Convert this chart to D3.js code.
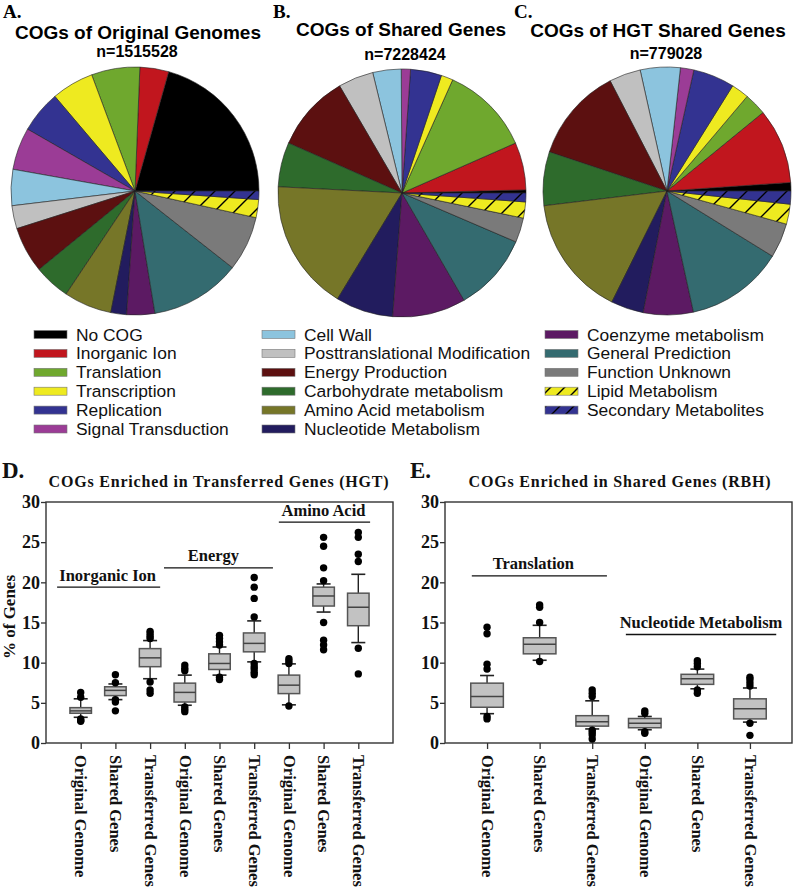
<!DOCTYPE html>
<html><head><meta charset="utf-8">
<script src="https://cdn.jsdelivr.net/npm/d3@7"></script>
<style>body{margin:0;background:#fff} svg{display:block}</style>
</head><body>
<svg id="chart" width="793" height="887"></svg>
<script>
// ---------- DATA ----------
const cogCategories = ["No COG","Inorganic Ion","Translation","Transcription","Replication","Signal Transduction","Cell Wall","Posttranslational Modification","Energy Production","Carbohydrate metabolism","Amino Acid metabolism","Nucleotide Metabolism","Coenzyme metabolism","General Prediction","Function Unknown","Lipid Metabolism","Secondary Metabolites"];
const pieOriginal = [20.6,3.75,6.3,5.5,5.5,5.5,4.7,3.0,6.0,4.7,6.25,2.05,3.65,11.8,7.15,2.35,1.1];
const pieShared   = [0.4,6.2,11.7,1.55,4.05,1.2,3.7,4.6,10.0,5.8,17.1,7.5,9.55,10.2,3.2,2.1,1.15];
const pieHGT      = [1.1,9.8,2.9,2.3,5.4,1.75,5.2,4.1,12.3,7.0,15.75,4.25,6.5,12.75,4.5,2.6,1.7];
const pieTitles = ["COGs of Original Genomes","COGs of Shared Genes","COGs of HGT Shared Genes"];
const pieCounts = ["n=1515528","n=7228424","n=779028"];
const pieLetters = ["A.","B.","C."];

const hgtTitle = "COGs Enriched in Transferred Genes (HGT)";
const hgtLabels = ["Original Genome","Shared Genes","Transferred Genes","Original Genome","Shared Genes","Transferred Genes","Original Genome","Shared Genes","Transferred Genes"];
const hgtQ1 = [3.7,5.9,9.5,5.1,9.15,11.35,6.15,17.05,14.6];
const hgtMedian = [4.0,6.55,10.6,6.3,9.9,12.4,7.2,18.3,16.9];
const hgtQ3 = [4.4,7.0,11.75,7.45,11.1,13.7,8.45,19.4,18.65];
const hgtWhiskerLow = [3.2,5.4,8.0,4.7,8.45,10.1,4.75,16.3,12.5];
const hgtWhiskerHigh = [5.5,7.35,12.75,8.45,11.95,15.2,9.85,19.8,21.0];
const hgtOutliers = [[6.3,5.7,3.0,2.8,2.7],[8.5,7.5,5.4,5.1,4.0],[13.9,13.6,13.3,13.0,7.6,6.6,6.2],[9.7,9.3,9.0,4.5,4.2,3.9],[13.4,13.0,12.6,12.2,8.2,7.9],[20.6,19.4,18.0,15.7,9.9,9.5,9.2,8.8,8.5],[10.5,10.2,9.9,4.6],[25.6,24.5,21.8,20.2,15.0,12.8,12.2,11.6],[26.2,25.6,23.5,22.6,11.8,8.6]];
const hgtGroups = ["Inorganic Ion","Energy","Amino Acid"];
const hgtGroupSpan = [[0.32,3.29],[3.4,6.54],[6.71,9.34]];
const hgtGroupLevel = [19.4,21.8,27.5];

const rbhTitle = "COGs Enriched in Shared Genes (RBH)";
const rbhLabels = ["Original Genome","Shared Genes","Transferred Genes","Original Genome","Shared Genes","Transferred Genes"];
const rbhQ1 = [4.45,11.1,2.1,1.9,7.3,3.0];
const rbhMedian = [5.8,12.3,2.65,2.45,8.0,4.25];
const rbhQ3 = [7.45,13.1,3.4,3.05,8.55,5.5];
const rbhWhiskerLow = [3.65,10.3,1.75,1.65,6.75,2.6];
const rbhWhiskerHigh = [8.4,14.65,5.25,3.3,9.2,6.85];
const rbhOutliers = [[14.4,13.6,9.8,9.2,3.3,3.0],[17.2,16.9,15.0,10.15],[6.6,6.2,5.8,1.6,1.3,1.0,0.5],[4.0,3.7,1.4,1.2],[10.25,9.9,9.5,6.6,6.2],[8.2,7.9,7.5,7.1,2.45,0.95]];
const rbhGroups = ["Translation","Nucleotide Metabolism"];
const rbhGroupSpan = [[0.71,3.28],[3.64,6.5]];
const rbhGroupLevel = [20.8,13.5];

const yTicks = [0,5,10,15,20,25,30];

// ---------- STYLE ----------
const cogColors = ["#000000","#c1161e","#6fa82e","#eeea20","#333391","#9b3c96","#8cc4de","#c0c0c0","#5c1010","#2e6b2c","#767628","#221c5e","#5c1a63","#346b70","#7a7a7a","#eeea20","#333391"];
const hatched = [false,false,false,false,false,false,false,false,false,false,false,false,false,false,false,true,true];
const SANS = "'Liberation Sans', Arial, sans-serif";
const SERIF = "'Liberation Serif', 'Times New Roman', serif";

const svg = d3.select("#chart");
const defs = svg.append("defs");
function hatchPattern(id, color, s) {
  const p = defs.append("pattern").attr("id", id).attr("patternUnits","userSpaceOnUse")
    .attr("width", s).attr("height", s);
  p.append("rect").attr("width", s).attr("height", s).attr("fill", color);
  p.append("path").attr("d", `M${-s/4},${s/4} L${s/4},${-s/4} M0,${s} L${s},0 M${s*0.75},${s*1.25} L${s*1.25},${s*0.75}`)
    .attr("stroke","#000").attr("stroke-width",1.4);
}
hatchPattern("hatch15", cogColors[15], 20);
hatchPattern("hatch16", cogColors[16], 20);
hatchPattern("lhatch15", cogColors[15], 14);
hatchPattern("lhatch16", cogColors[16], 14);
const fillFor = (i, legend) => hatched[i] ? `url(#${legend ? "l" : ""}hatch${i})` : cogColors[i];

// ---------- PIES ----------
const pieData = [pieOriginal, pieShared, pieHGT];
const pieCenters = [[135,191],[402,193],[667,191]];
const titleX = [138, 401, 658];
const titleY = [39, 36, 37];
const countX = [137, 405, 666];
const countY = [57, 60, 59];
const letterX = [3, 273, 514];
const R = 124;
const pie = d3.pie().sort(null).startAngle(Math.PI/2).endAngle(Math.PI/2 - 2*Math.PI);
const arc = d3.arc().innerRadius(0).outerRadius(R);

pieData.forEach((vals, k) => {
  const g = svg.append("g").attr("transform", `translate(${pieCenters[k][0]},${pieCenters[k][1]})`);
  g.selectAll("path").data(pie(vals)).join("path")
    .attr("d", arc)
    .attr("fill", (d,i) => fillFor(i,false))
    .attr("stroke", "#222").attr("stroke-width", 0.6);
  svg.append("text").attr("x", titleX[k]).attr("y", titleY[k]).attr("text-anchor","middle")
    .style("font-family", SANS).style("font-weight","bold").style("font-size","19px").text(pieTitles[k]);
  svg.append("text").attr("x", countX[k]).attr("y", countY[k]).attr("text-anchor","middle")
    .style("font-family", SANS).style("font-weight","bold").style("font-size","16px").text(pieCounts[k]);
  svg.append("text").attr("x", letterX[k]).attr("y", 18)
    .style("font-family", SERIF).style("font-weight","bold").style("font-size","19px").text(pieLetters[k]);
});

// ---------- LEGEND ----------
const legendCols = [34, 262, 545];
const legendTop = 334.5, legendStep = 18.9;
cogCategories.forEach((name, i) => {
  const col = Math.floor(i / 6), row = i % 6;
  const x = legendCols[col], y = legendTop + row * legendStep;
  svg.append("rect").attr("x", x).attr("y", y - 4).attr("width", 33).attr("height", 8)
    .attr("fill", fillFor(i,true)).attr("stroke", "#777").attr("stroke-width", 0.6);
  svg.append("text").attr("x", x + 42).attr("y", y + 6)
    .style("font-family", SANS).style("font-size","17.4px").style("fill","#111").text(name);
});

// ---------- BOX PANELS ----------
function boxPanel(o) {
  const y = d3.scaleLinear().domain([0,30]).range([743, 502]);
  const x = d3.scaleLinear().domain(o.xDomain).range([o.left, o.right]);
  const step = x(1) - x(0);
  const bw = step * 0.62, cw = 14;
  const g = svg.append("g");
  const n = o.q1.length;
  const idx = d3.range(n);

  const ya = g.append("g").attr("transform", `translate(${o.left},0)`)
    .call(d3.axisLeft(y).tickValues(yTicks).tickSize(5).tickPadding(1));
  ya.select(".domain").remove();
  ya.selectAll("line").attr("stroke","#333").attr("stroke-width",1.3);
  ya.selectAll("text").style("font-family", SERIF).style("font-weight","bold").style("font-size","18px").attr("fill","#111");

  const xa = g.append("g").attr("transform", `translate(0,743)`)
    .call(d3.axisBottom(x).tickValues(idx.map(i => i+1)).tickFormat(v => o.labels[v-1]).tickSize(6));
  xa.select(".domain").remove();
  xa.selectAll("line").attr("stroke","#333").attr("stroke-width",1.3);
  xa.selectAll("text").attr("transform","rotate(90)").attr("x", 12).attr("y", 0).attr("dy","0.35em")
    .style("text-anchor","start").style("font-family", SERIF).style("font-weight","bold").style("font-size","16.5px").attr("fill","#111");

  g.append("rect").attr("x", o.left).attr("y", 502).attr("width", o.right - o.left).attr("height", 241)
    .attr("fill","none").attr("stroke","#333").attr("stroke-width",1.4);

  idx.forEach(i => {
    const cx = x(i+1);
    g.append("line").attr("x1",cx).attr("x2",cx).attr("y1",y(o.wHigh[i])).attr("y2",y(o.q3[i])).attr("stroke","#222").attr("stroke-width",1.4);
    g.append("line").attr("x1",cx).attr("x2",cx).attr("y1",y(o.q1[i])).attr("y2",y(o.wLow[i])).attr("stroke","#222").attr("stroke-width",1.4);
    g.append("line").attr("x1",cx-cw/2).attr("x2",cx+cw/2).attr("y1",y(o.wHigh[i])).attr("y2",y(o.wHigh[i])).attr("stroke","#222").attr("stroke-width",1.6);
    g.append("line").attr("x1",cx-cw/2).attr("x2",cx+cw/2).attr("y1",y(o.wLow[i])).attr("y2",y(o.wLow[i])).attr("stroke","#222").attr("stroke-width",1.6);
    g.append("rect").attr("x", cx-bw/2).attr("y", y(o.q3[i])).attr("width", bw).attr("height", y(o.q1[i]) - y(o.q3[i]))
      .attr("fill","#c2c2c2").attr("stroke","#555").attr("stroke-width",1.5);
    g.append("line").attr("x1",cx-bw/2).attr("x2",cx+bw/2).attr("y1",y(o.median[i])).attr("y2",y(o.median[i])).attr("stroke","#444").attr("stroke-width",1.5);
    g.selectAll(null).data(o.outliers[i]).join("circle")
      .attr("cx", cx).attr("cy", d => y(d)).attr("r", 3.7).attr("fill","#000");
  });

  o.groups.forEach((name, j) => {
    const [a,b] = o.spans[j];
    const ly = y(o.levels[j]);
    g.append("line").attr("x1", x(a)).attr("x2", x(b)).attr("y1", ly).attr("y2", ly).attr("stroke","#111").attr("stroke-width",1.4);
    g.append("text").attr("x", (x(a)+x(b))/2 + o.labelShift[j]).attr("y", ly - 6.5).attr("text-anchor","middle")
      .style("font-family", SERIF).style("font-weight","bold").style("font-size","16.5px").attr("fill","#111").text(name);
  });

  svg.append("text").attr("x", o.titleX).attr("y", 487).attr("text-anchor","middle")
    .style("font-family", SERIF).style("font-weight","bold").style("font-size","16px").style("letter-spacing","0.8px").attr("fill","#111").text(o.title);
  svg.append("text").attr("x", o.letterX).attr("y", 478)
    .style("font-family", SERIF).style("font-weight","bold").style("font-size","23px").attr("fill","#111").text(o.letter);
  if (o.yTitle) {
    svg.append("text").attr("transform", `translate(15,617) rotate(-90)`).attr("text-anchor","middle")
      .style("font-family", SERIF).style("font-weight","bold").style("font-size","17px").attr("fill","#111").text(o.yTitle);
  }
}

boxPanel({left:46, right:393, xDomain:[0,10], labels:hgtLabels, q1:hgtQ1, median:hgtMedian, q3:hgtQ3,
  wLow:hgtWhiskerLow, wHigh:hgtWhiskerHigh, outliers:hgtOutliers, groups:hgtGroups, spans:hgtGroupSpan, levels:hgtGroupLevel,
  labelShift:[-1,-5,-1], title:hgtTitle, titleX:219, letter:"D.", letterX:2, yTitle:"% of Genes"});
boxPanel({left:445, right:792, xDomain:[0.2,6.8], labels:rbhLabels, q1:rbhQ1, median:rbhMedian, q3:rbhQ3,
  wLow:rbhWhiskerLow, wHigh:rbhWhiskerHigh, outliers:rbhOutliers, groups:rbhGroups, spans:rbhGroupSpan, levels:rbhGroupLevel,
  labelShift:[-6,0], title:rbhTitle, titleX:620, letter:"E.", letterX:410, yTitle:null});
</script>
</body></html>
